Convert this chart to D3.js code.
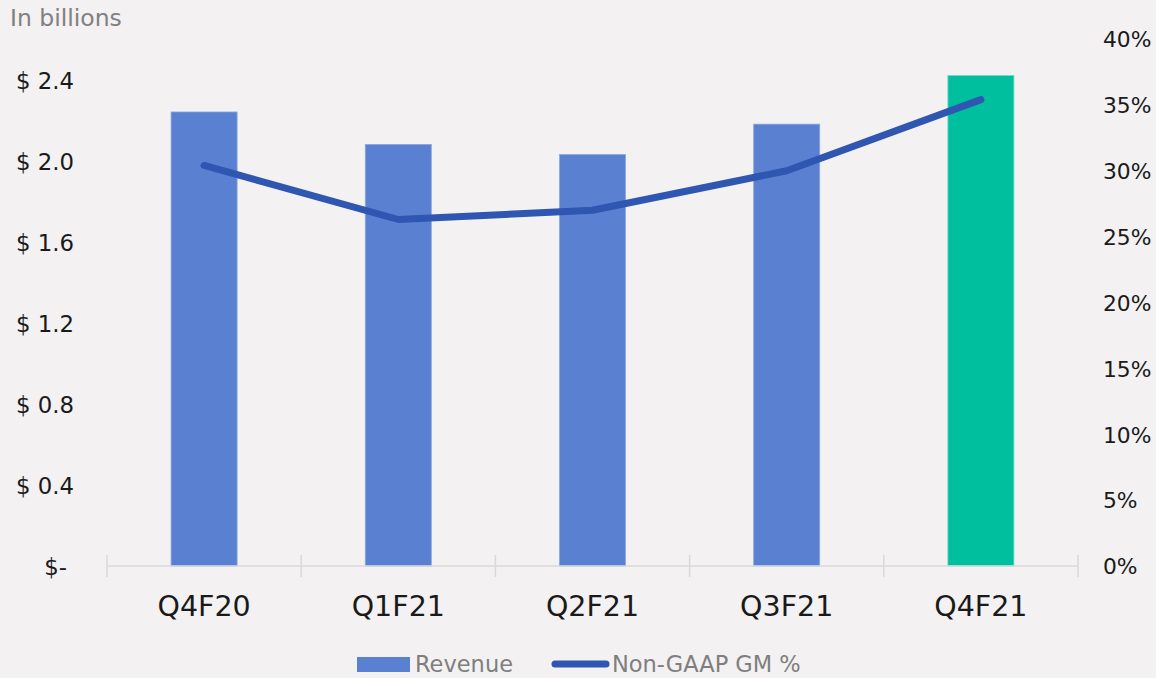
<!DOCTYPE html>
<html>
<head>
<meta charset="utf-8">
<script src="https://cdn.jsdelivr.net/npm/d3@7"></script>
<style>
  html, body { margin: 0; padding: 0; background: #f3f1f2; }
  svg { display: block; }
  text { font-family: "DejaVu Sans", sans-serif; }
</style>
</head>
<body>
<svg id="chart" width="1156" height="678"></svg>
<script>
const categories = ["Q4F20", "Q1F21", "Q2F21", "Q3F21", "Q4F21"];
const revenue = [2.24, 2.08, 2.03, 2.18, 2.42];
const gmPct = [30.4, 26.3, 27.0, 30.0, 35.4];
const leftTicks = [0, 0.4, 0.8, 1.2, 1.6, 2.0, 2.4];
const rightTicks = [0, 5, 10, 15, 20, 25, 30, 35, 40];
const seriesNames = ["Revenue", "Non-GAAP GM %"];

const W = 1156, H = 678;
const plot = { left: 107, right: 1078, top: 39, bottom: 566 };
const barColor = "#5a80d2", barHighlight = "#00bf9f", lineColor = "#2f56b0";

const svg = d3.select("#chart");
svg.append("rect").attr("width", W).attr("height", H).attr("fill", "#f3f1f2");

const x = d3.scaleBand().domain(categories).range([plot.left, plot.right])
  .paddingInner(0.66).paddingOuter(0.33);
const yL = d3.scaleLinear().domain([0, 2.6]).range([plot.bottom, plot.top]);
const yR = d3.scaleLinear().domain([0, 40]).range([plot.bottom, plot.top]);

// Bars
svg.append("g").selectAll("rect").data(categories).join("rect")
  .attr("x", d => x(d))
  .attr("width", x.bandwidth())
  .attr("y", (d, i) => yL(revenue[i]))
  .attr("height", (d, i) => yL(0) - yL(revenue[i]))
  .attr("fill", (d, i) => i === categories.length - 1 ? barHighlight : barColor)
  .attr("stroke", (d, i) => i === categories.length - 1 ? "#6fdcc6" : "#8ca6e3")
  .attr("stroke-width", 0.8);

// X axis line and boundary ticks
const axisG = svg.append("g");
axisG.append("line")
  .attr("x1", plot.left).attr("x2", plot.right)
  .attr("y1", plot.bottom).attr("y2", plot.bottom)
  .attr("stroke", "#d9d9d9").attr("stroke-width", 1.5);
const step = x.step();
const boundaries = d3.range(categories.length + 1).map(i => plot.left + i * step);
axisG.selectAll("line.tick").data(boundaries).join("line")
  .attr("class", "tick")
  .attr("x1", d => d).attr("x2", d => d)
  .attr("y1", plot.bottom - 11).attr("y2", plot.bottom + 11)
  .attr("stroke", "#d9d9d9").attr("stroke-width", 1.5);

// Category labels
svg.append("g").selectAll("text").data(categories).join("text")
  .attr("x", d => x(d) + x.bandwidth() / 2)
  .attr("y", plot.bottom + 50)
  .attr("text-anchor", "middle")
  .attr("font-size", 28.5)
  .attr("fill", "#1a1a1a")
  .text(d => d);

// Left axis labels
svg.append("g").selectAll("text").data(leftTicks).join("text")
  .attr("x", d => d === 0 ? 67 : 74)
  .attr("y", d => yL(d))
  .attr("dy", "0.4em")
  .attr("text-anchor", "end")
  .attr("font-size", 22.8)
  .attr("fill", "#1a1a1a")
  .text(d => d === 0 ? "$-" : "$ " + d.toFixed(1));

// Right axis labels
svg.append("g").selectAll("text").data(rightTicks).join("text")
  .attr("x", 1103)
  .attr("y", d => yR(d))
  .attr("dy", "0.38em")
  .attr("text-anchor", "start")
  .attr("font-size", 21.8)
  .attr("fill", "#1a1a1a")
  .text(d => d + "%");

// Line
const line = d3.line()
  .x((d, i) => x(categories[i]) + x.bandwidth() / 2)
  .y(d => yR(d));
svg.append("path").datum(gmPct)
  .attr("d", line)
  .attr("fill", "none")
  .attr("stroke", lineColor)
  .attr("stroke-width", 7)
  .attr("stroke-linecap", "round")
  .attr("stroke-linejoin", "round");

// Unit label
svg.append("text")
  .attr("x", 10).attr("y", 26)
  .attr("font-size", 23.5)
  .attr("fill", "#808080")
  .text("In billions");

// Legend
const lg = svg.append("g");
lg.append("rect").attr("x", 357).attr("y", 657).attr("width", 53).attr("height", 15)
  .attr("fill", barColor);
lg.append("text").attr("x", 415).attr("y", 672).attr("font-size", 22.5)
  .attr("fill", "#7f7f7f").text(seriesNames[0]);
lg.append("line").attr("x1", 555).attr("x2", 606).attr("y1", 664).attr("y2", 664)
  .attr("stroke", lineColor).attr("stroke-width", 7).attr("stroke-linecap", "round");
lg.append("text").attr("x", 612).attr("y", 672).attr("font-size", 22.5)
  .attr("fill", "#7f7f7f").text(seriesNames[1]);
</script>
</body>
</html>
